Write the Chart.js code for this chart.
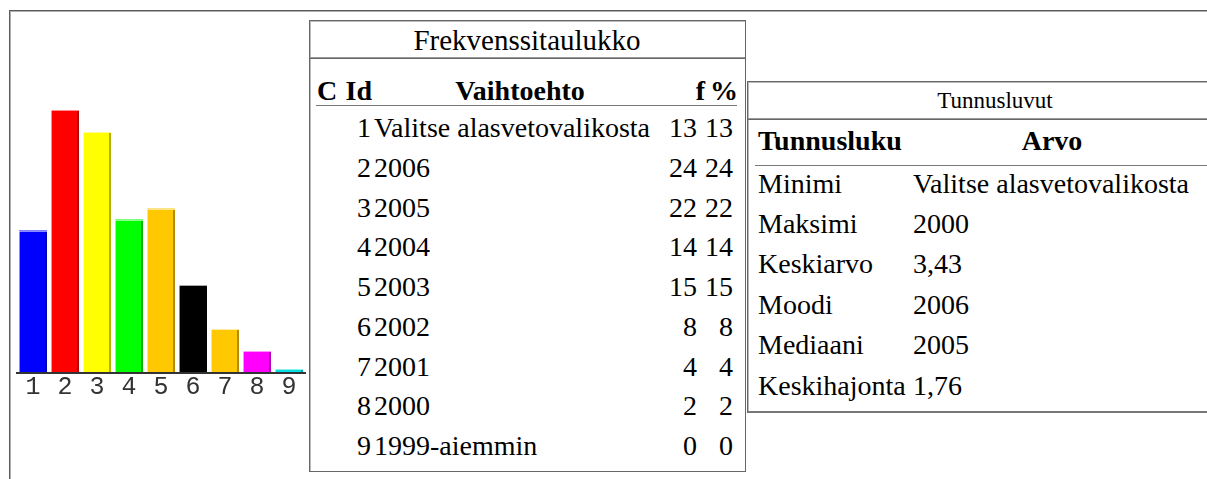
<!DOCTYPE html>
<html>
<head>
<meta charset="utf-8">
<script src="https://cdn.jsdelivr.net/npm/chart.js@4"></script>
<style>
  body { margin: 0; width: 1207px; height: 479px; overflow: hidden; background: #fff; position: relative;
         font-family: "Liberation Serif", "Times New Roman", serif; color: #000; }
  .abs { position: absolute; white-space: nowrap; }
  .line { position: absolute; }
  .t28 { font-size: 28px; line-height: 40px; height: 40px; }
  .b { font-weight: bold; }
  .r { text-align: right; }
  .c { text-align: center; }
  #chartBox { position: absolute; left: 10px; top: 90px; width: 299px; height: 320px; }
</style>
</head>
<body>
<div class="line" style="left:9px;top:10px;width:1300px;height:600px;border-top:1px solid #5a5a5a;border-left:1px solid #5a5a5a;box-shadow: inset 1px 1px 0 #b0b0b0;"></div>

<!-- Frekvenssitaulukko frame -->
<div class="line" style="left:309px;top:20px;width:435px;height:450px;border:1px solid #666;box-shadow: inset 1px 1px 0 #bbb;"></div>
<div class="line" style="left:310px;top:57px;width:435px;height:0;border-top:1px solid #999;border-bottom:1px solid #666;"></div>
<div class="line" style="left:316px;top:105px;width:421px;height:0;border-top:1px solid #777;"></div>

<!-- Tunnusluvut frame -->
<div class="line" style="left:747px;top:81px;width:520px;height:329px;border:1px solid #666;border-bottom:2px solid #777;box-shadow: inset 1px 1px 0 #bbb;"></div>
<div class="line" style="left:748px;top:118px;width:520px;height:0;border-top:1px solid #999;border-bottom:1px solid #666;"></div>
<div class="line" style="left:755px;top:165px;width:520px;height:0;border-top:1px solid #777;"></div>

<div class="abs t28 c" style="left:309px;top:20px;width:436px;font-size:29px;">Frekvenssitaulukko</div>
<div class="abs t28 b" style="left:317px;top:71px;">C</div>
<div class="abs t28 b r" style="left:330px;top:71px;width:42px;">Id</div>
<div class="abs t28 b c" style="left:420px;top:71px;width:200px;">Vaihtoehto</div>
<div class="abs t28 b r" style="left:686px;top:71px;width:19px;">f</div>
<div class="abs t28 b r" style="left:710px;top:71px;width:24px;">%</div>

<div class="abs c" style="left:747px;top:86px;width:496px;font-size:23px;line-height:30px;">Tunnusluvut</div>
<div class="abs t28 b" style="left:758px;top:121px;">Tunnusluku</div>
<div class="abs t28 b c" style="left:952px;top:121px;width:200px;">Arvo</div>

<div id="rows"></div>

<div id="chartBox"><canvas id="bars" width="299" height="320"></canvas></div>

<script>
const categories = ["1", "2", "3", "4", "5", "6", "7", "8", "9"];
const choices = ["Valitse alasvetovalikosta", "2006", "2005", "2004", "2003", "2002", "2001", "2000", "1999-aiemmin"];
const freq = [13, 24, 22, 14, 15, 8, 4, 2, 0];
const percent = [13, 24, 22, 14, 15, 8, 4, 2, 0];
const statNames = ["Minimi", "Maksimi", "Keskiarvo", "Moodi", "Mediaani", "Keskihajonta"];
const statValues = ["Valitse alasvetovalikosta", "2000", "3,43", "2006", "2005", "1,76"];

const rows = document.getElementById("rows");
function cell(text, css, cls) {
  const d = document.createElement("div");
  d.className = "abs t28 " + (cls || "");
  d.style.cssText = css;
  d.textContent = text;
  rows.appendChild(d);
}

// frequency table rows
categories.forEach((id, i) => {
  const top = 108 + i * 39.75;
  cell(id, "left:330px;width:41px;top:" + top + "px", "r");
  cell(choices[i], "left:374px;top:" + top + "px");
  cell(freq[i], "left:660px;width:37px;top:" + top + "px", "r");
  cell(percent[i], "left:700px;width:33px;top:" + top + "px", "r");
});

// statistics table rows
statNames.forEach((name, i) => {
  const top = 163.5 + i * 40.4;
  cell(name, "left:758px;top:" + top + "px");
  cell(statValues[i], "left:913px;top:" + top + "px");
});

// small 3d edge on every bar
const bevel = {
  id: "bevel",
  afterDatasetsDraw(chart) {
    const ctx = chart.ctx;
    chart.getDatasetMeta(0).data.forEach(bar => {
      const left = Math.round(bar.x - bar.width / 2);
      const w = Math.round(bar.width);
      const top = Math.round(Math.min(bar.y, bar.base));
      const h = Math.round(Math.abs(bar.base - bar.y));
      ctx.save();
      ctx.fillStyle = "rgba(255,255,255,0.55)";
      ctx.fillRect(left, top, 1, h);
      ctx.fillRect(left, top, w, 1);
      ctx.fillStyle = "rgba(0,0,0,0.3)";
      ctx.fillRect(left + w - 2, top + 1, 2, h - 1);
      ctx.restore();
    });
  }
};

new Chart(document.getElementById("bars"), {
  type: "bar",
  data: {
    labels: categories,
    datasets: [{
      data: freq,
      backgroundColor: ["#0000ff", "#ff0000", "#ffff00", "#00ff00", "#ffc800", "#000000", "#ffc800", "#ff00ff", "#00e0e0"],
      borderWidth: 0,
      minBarLength: 4,
      categoryPercentage: 1,
      barPercentage: 0.875
    }]
  },
  options: {
    responsive: false,
    animation: false,
    layout: { padding: { top: 9, left: 7, right: 4, bottom: 0 } },
    plugins: { legend: { display: false }, tooltip: { enabled: false } },
    scales: {
      y: { display: false, min: 0, max: 25 },
      x: {
        grid: { display: false },
        border: { display: true, color: "#333", width: 2, z: 1 },
        ticks: { color: "#333", padding: -9, font: { family: "Liberation Mono", size: 25 } },
        afterFit(scale) { scale.height = 37; }
      }
    }
  },
  plugins: [bevel]
});
</script>
</body>
</html>
